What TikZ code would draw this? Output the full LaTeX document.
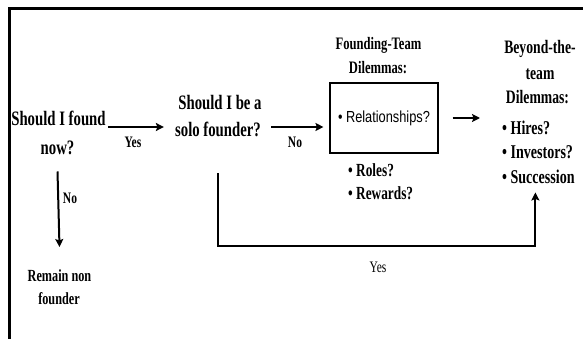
\documentclass[tikz,border=0pt]{standalone}
\usepackage{fontspec}
\setmainfont{Liberation Serif}[FakeStretch=0.72]
\newfontfamily\boxsans{Liberation Sans}[FakeStretch=0.8]
\usetikzlibrary{arrows.meta,calc}

\begin{document}
\begin{tikzpicture}[x=1pt,y=-1pt,
  txt/.style={anchor=base,inner sep=0pt},
  big/.style={txt,font=\bfseries\fontsize{20.5}{22}\selectfont},
  beyond/.style={txt,font=\bfseries\fontsize{19}{21}\selectfont},
  founding/.style={txt,font=\bfseries\fontsize{17.5}{20}\selectfont},
  item/.style={anchor=base west,inner sep=0pt,font=\bfseries\fontsize{19.5}{21}\selectfont},
  subitem/.style={anchor=base west,inner sep=0pt,font=\bfseries\fontsize{18.5}{20}\selectfont},
  edgelbl/.style={txt,font=\bfseries\fontsize{16}{18}\selectfont},
  arr/.style={line width=2pt,-{Stealth[length=8pt,width=8pt,inset=1.5pt]}},
  framestyle/.style={line width=3pt}]

  \useasboundingbox (0,0) rectangle (583,339);

  % outer frame (top and left edges)
  \draw[framestyle] (9.5,339) -- (9.5,9) -- (583,9);

  % first decision
  \node[big] (f1) at (58.5,126) {Should I found};
  \node[big] (f2) at (57.5,155) {now?};

  % second decision
  \node[big] (s1) at (220,110) {Should I be a};
  \node[big] (s2) at (218,137) {solo founder?};

  % founding-team dilemmas
  \node[founding] (ft1) at (378.5,50) {Founding-Team};
  \node[founding] (ft2) at (378,74) {Dilemmas:};
  \node[draw,line width=1.1pt,minimum width=108pt,minimum height=70pt,inner sep=0pt,
        font=\boxsans\fontsize{16}{18}\selectfont] (box) at (384,118) {• Relationships?};
  \node[subitem] (ro) at (348,176) {• Roles?};
  \node[subitem] (rw) at (348,200) {• Rewards?};

  % beyond-the-team dilemmas
  \node[beyond] (b1) at (540,54) {Beyond-the-};
  \node[beyond] (b2) at (540,80) {team};
  \node[beyond] (b3) at (537.5,104) {Dilemmas:};
  \node[item] (hi) at (502,135) {• Hires?};
  \node[item] (iv) at (502,159) {• Investors?};
  \node[item] (su) at (502,183) {• Succession};

  % outcome of not founding
  \node[txt,font=\bfseries\fontsize{17}{19}\selectfont] (rm1) at (59.5,281) {Remain non};
  \node[txt,font=\bfseries\fontsize{17}{19}\selectfont] (rm2) at (59,304) {founder};

  % edge labels
  \node[edgelbl] (yes1) at (133,148) {Yes};
  \node[edgelbl] (no1) at (295,148) {No};
  \node[edgelbl] (no2) at (70,203) {No};
  \node[txt,font=\fontsize{16}{18}\selectfont] (yes2) at (378,272) {Yes};

  % connectors
  \draw[arr] ($(f1.base east)+(2,1)$) -- ++(56,0);
  \draw[arr] ($(s2.base east)+(10,-10)$) -- ($(box.west)+(-6,9)$);
  \draw[arr] ($(box.east)+(14,0)$) -- ($(hi.base west)+(-22,-17)$);
  \draw[arr] ($(f2.south)+(0,16)$) -- ($(rm1.north)+(0,-22)$);

  \coordinate (ya) at ($(s2.south)+(0,36)$);
  \coordinate (yc) at ($(yes2.north)+(0,-15)$);
  \coordinate (yb) at ($(su.south)+(-3,9)$);
  \draw[arr] (ya) |- (yc) -| (yb);
\end{tikzpicture}
\end{document}
